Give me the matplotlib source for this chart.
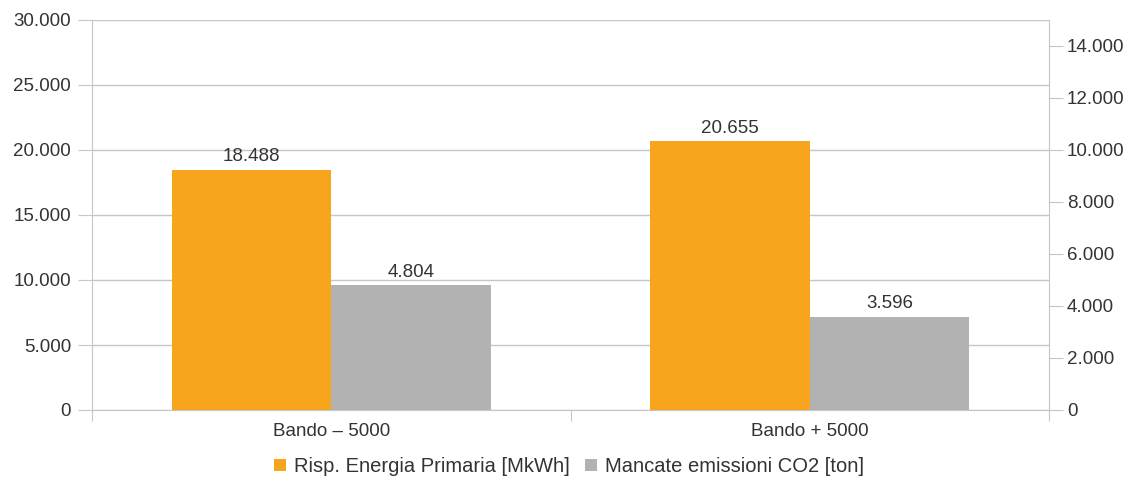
import matplotlib
matplotlib.use("Agg")
import matplotlib.pyplot as plt
from matplotlib.ticker import FuncFormatter, FixedLocator
import numpy as np

categories = ["Bando \u2013 5000", "Bando + 5000"]
energia = [18488, 20655]        # MkWh, left axis
emissioni = [4804, 3596]        # ton, right axis
series_names = ["Risp. Energia Primaria [MkWh]", "Mancate emissioni CO2 [ton]"]

orange = "#f7a51c"
gray = "#b2b2b2"
line_col = "#c6c6c6"
text_col = "#333333"
fs = 13.5

plt.rcParams["font.family"] = ["Liberation Sans", "DejaVu Sans"]

fig = plt.figure(figsize=(11.32, 4.78), dpi=100)
ax = fig.add_axes([92 / 1132, 1 - 410 / 478, (1049 - 92) / 1132, (410 - 20) / 478])
ax2 = ax.twinx()

x = np.arange(len(categories))
w = 1 / 3

b1 = ax.bar(x - w / 2, energia, w, color=orange, label=series_names[0], zorder=3)
b2 = ax2.bar(x + w / 2, emissioni, w, color=gray, label=series_names[1], zorder=3)

ax.set_xlim(-0.5, len(categories) - 0.5)
ax.set_ylim(0, 30000)
ax2.set_ylim(0, 15000)

fmt = FuncFormatter(lambda v, p: f"{int(v):,}".replace(",", "."))
ax.yaxis.set_major_locator(FixedLocator(np.arange(0, 30001, 5000)))
ax2.yaxis.set_major_locator(FixedLocator(np.arange(0, 14001, 2000)))
ax.yaxis.set_major_formatter(fmt)
ax2.yaxis.set_major_formatter(fmt)

ax.grid(axis="y", color=line_col, linewidth=1, zorder=0)
ax.set_axisbelow(True)

for a in (ax, ax2):
    for s in a.spines.values():
        s.set_visible(False)
ax.spines["left"].set_visible(True)
ax.spines["left"].set_color(line_col)
ax.spines["bottom"].set_visible(True)
ax.spines["bottom"].set_color(line_col)
ax2.spines["right"].set_visible(True)
ax2.spines["right"].set_color(line_col)

ax.tick_params(axis="y", length=10, color=line_col, labelsize=fs, labelcolor=text_col, pad=5)
ax2.tick_params(axis="y", length=10, color=line_col, labelsize=fs, labelcolor=text_col, pad=3)

# category boundary ticks and centered labels
ax.set_xticks([-0.5, 0.5, 1.5])
ax.set_xticklabels([])
ax.set_xticks(x, minor=True)
ax.set_xticklabels(categories, minor=True)
ax.tick_params(axis="x", which="major", length=8, color=line_col)
ax.tick_params(axis="x", which="minor", length=0, labelsize=fs, labelcolor=text_col, pad=9)

for rect, v in zip(b1, energia):
    ax.annotate(f"{v:,}".replace(",", "."), (rect.get_x() + rect.get_width() / 2, v),
                xytext=(0, 3), textcoords="offset points", ha="center", va="bottom",
                fontsize=fs, color=text_col)
for rect, v in zip(b2, emissioni):
    ax2.annotate(f"{v:,}".replace(",", "."), (rect.get_x() + rect.get_width() / 2, v),
                 xytext=(0, 3), textcoords="offset points", ha="center", va="bottom",
                 fontsize=fs, color=text_col)

handles = [b1, b2]
fig.legend(handles, series_names, loc="center", bbox_to_anchor=(569 / 1132, 1 - 467 / 478),
           ncol=2, frameon=False, fontsize=14.5, handlelength=0.55, handleheight=0.55,
           handletextpad=0.4, columnspacing=0.8, labelcolor=text_col)

fig.savefig("out.png", dpi=100)
